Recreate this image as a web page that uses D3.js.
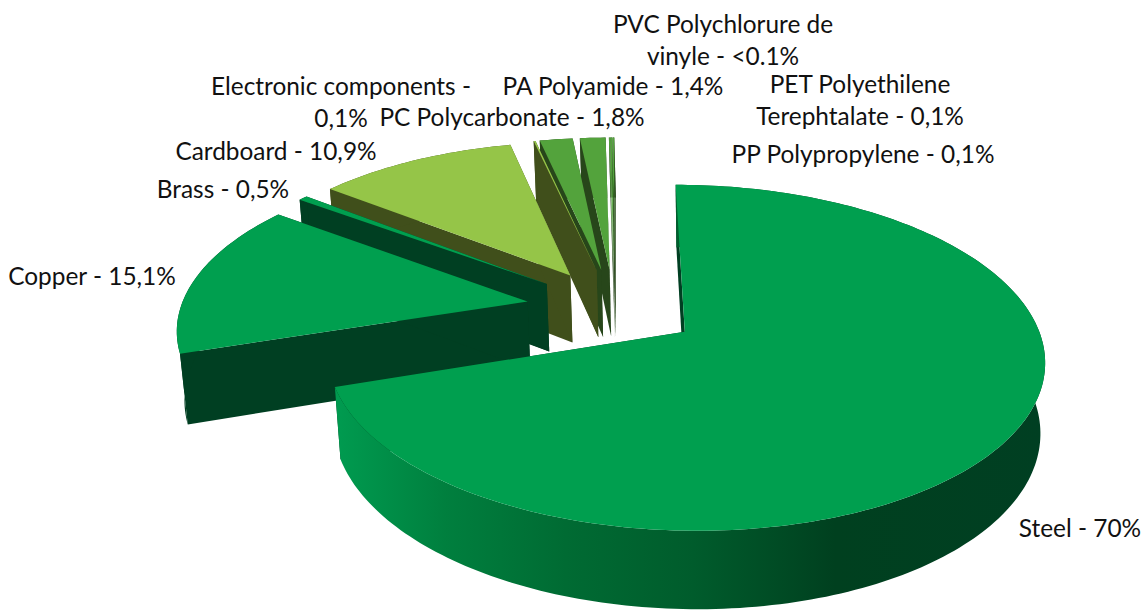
<!DOCTYPE html>
<html>
<head>
<meta charset="utf-8">
<script src="https://cdn.jsdelivr.net/npm/d3@7"></script>
<style>
  html, body { margin: 0; background: #fff; }
  text { font-family: Lato, "Open Sans", sans-serif; font-size: 24.4px; fill: #111; }
</style>
</head>
<body>
<div id="chart"></div>
<script>
const categories = ["Steel", "Copper", "Brass", "Cardboard", "Electronic components", "PC Polycarbonate", "PA Polyamide", "PVC Polychlorure de vinyle", "PET Polyethilene Terephtalate", "PP Polypropylene"];
const values = [70, 15.1, 0.5, 10.9, 0.1, 1.8, 1.4, 0.05, 0.1, 0.1];
const valueLabels = ["70%", "15,1%", "0,5%", "10,9%", "0,1%", "1,8%", "1,4%", "<0.1%", "0,1%", "0,1%"];

const topColors = ["#009f4f", "#009f4f", "#009f4f", "#95c548", "#95c548", "#53a33c", "#53a33c", "#53a33c", "#53a33c", "#53a33c"];
const wallColors = ["#003f22", "#003f22", "#003f22", "#404f1b", "#404f1b", "#27461a", "#27461a", "#27461a", "#27461a", "#27461a"];

// x, baseline y, words on the first line (0 = one line)
const labelLayout = [
  { x: 1080, y: 537, wrap: 0 },
  { x: 92, y: 285, wrap: 0 },
  { x: 223, y: 198, wrap: 0 },
  { x: 276, y: 160, wrap: 0 },
  { x: 341, y: 95, wrap: 3 },
  { x: 512, y: 126, wrap: 0 },
  { x: 613, y: 95, wrap: 0 },
  { x: 723, y: 33, wrap: 3 },
  { x: 860, y: 93, wrap: 2 },
  { x: 863, y: 163, wrap: 0 }
];

const width = 1141;
const height = 611;

const explosions = [0.245, 0.255, 0.25, 0.245, 0.245, 0.245, 0.245, 0.245, 0.245, 0.245];
const persp = { px: 614.5, py: 308, ax: 347, ay: 162, k: 0.147, depth: 69.5, m: 0.014, shift: 1.5 };

// world -> screen, y is toward the back of the pie, z 0 = top face, 1 = bottom face
const project = (x, y, z) => {
  const w = 1 + persp.k * y + persp.m * z;
  return [persp.px + persp.ax * x / w + persp.shift * z, persp.py + (-persp.ay * y + persp.depth * z) / w];
};

const line = d3.line();
const polar = (a, r) => [r * Math.sin(a), r * Math.cos(a)];

const pie = d3.pie().sort(null)(values);

const slices = pie.map((d, i) => {
  const mid = (d.startAngle + d.endAngle) / 2;
  const origin = polar(mid, explosions[i]);
  const n = Math.max(2, Math.ceil((d.endAngle - d.startAngle) / 0.02));
  const angles = d3.range(n + 1).map(j => d.startAngle + (d.endAngle - d.startAngle) * j / n);
  const rim = angles.map(a => {
    const p = polar(a, 1);
    return [origin[0] + p[0], origin[1] + p[1]];
  });
  return { i, origin, rim };
});

const svg = d3.select("#chart")
  .append("svg")
  .attr("width", width)
  .attr("height", height)
  .style("display", "block");

const grad = svg.append("defs").append("linearGradient")
  .attr("id", "steelWall")
  .attr("gradientUnits", "userSpaceOnUse")
  .attr("x1", 340).attr("x2", 1047).attr("y1", 0).attr("y2", 0);

[[0, "#009a4f"], [0.15, "#007f3e"], [0.32, "#006b33"], [0.5, "#005c2c"], [0.7, "#00401f"], [1, "#003f22"]]
  .forEach(s => grad.append("stop").attr("offset", s[0]).attr("stop-color", s[1]));

const pieces = svg.append("g");

// back to front
slices.slice().reverse().forEach(s => {
  const wall = i => s.i === 0 ? "url(#steelWall)" : wallColors[i];
  const g = pieces.append("g");
  const edge = p => [project(s.origin[0], s.origin[1], 0), project(p[0], p[1], 0), project(p[0], p[1], 1), project(s.origin[0], s.origin[1], 1)];

  g.append("path").attr("d", line(edge(s.rim[0])) + "Z").attr("fill", wallColors[s.i]);
  g.append("path").attr("d", line(edge(s.rim[s.rim.length - 1])) + "Z").attr("fill", wallColors[s.i]);

  const rimWall = s.rim.map(p => project(p[0], p[1], 0))
    .concat(s.rim.slice().reverse().map(p => project(p[0], p[1], 1)));
  g.append("path").attr("d", line(rimWall) + "Z").attr("fill", wall(s.i));

  const top = [project(s.origin[0], s.origin[1], 0)].concat(s.rim.map(p => project(p[0], p[1], 0)));
  g.append("path").attr("d", line(top) + "Z").attr("fill", topColors[s.i]);
});

const labels = svg.append("g")
  .selectAll("text")
  .data(categories)
  .enter()
  .append("text")
  .attr("text-anchor", "middle")
  .attr("y", (d, i) => labelLayout[i].y);

labels.each(function (d, i) {
  const words = `${d} - ${valueLabels[i]}`.split(" ");
  const cut = labelLayout[i].wrap || words.length;
  const rows = [words.slice(0, cut), words.slice(cut)].filter(r => r.length);
  d3.select(this).selectAll("tspan")
    .data(rows)
    .enter()
    .append("tspan")
    .attr("x", labelLayout[i].x)
    .attr("dy", (r, j) => j ? 32 : 0)
    .text(r => r.join(" "));
});
</script>
</body>
</html>
